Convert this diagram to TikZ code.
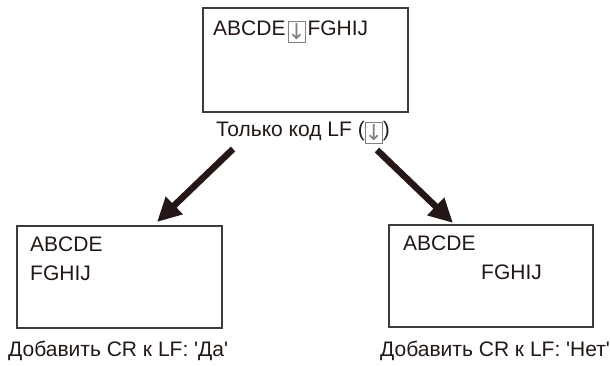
\documentclass[tikz,border=0pt]{standalone}
\usepackage{fontspec}
\setmainfont{Liberation Sans}
\newfontfamily\dvs{DejaVu Sans}
\usetikzlibrary{arrows.meta}
\definecolor{ink}{HTML}{231815}
\definecolor{frame}{HTML}{3C3C3C}
\definecolor{markgray}{HTML}{808080}
\newcommand{\lfmark}{\raisebox{-7pt}{\textcolor{markgray}{\setlength{\fboxsep}{0pt}\setlength{\fboxrule}{1pt}\fbox{\vbox to 20pt{\vss\hbox to 16pt{\hss\dvs\fontsize{22}{22}\selectfont ↓\hss}\vss}}}}}
\begin{document}
\begin{tikzpicture}[x=1pt,y=-1pt,
  screen/.style={draw=frame,line width=1.8pt},
  txt/.style={anchor=base west,inner sep=0pt,font=\fontsize{21}{21}\selectfont,text=ink},
  bigarrow/.style={ink,line width=6.5pt,-{Triangle[length=24pt,width=23pt]}}]
\useasboundingbox (0,0) rectangle (610,365);
\draw[screen] (203,8) rectangle (408,112);
\node[txt] (t1) at (213,35) {ABCDE\kern2pt\lfmark\kern2pt FGHIJ};
\node[txt] (lf) at (216,136) {Только код LF (\lfmark)};
\draw[screen] (17,226) rectangle (222,328);
\node[txt] (l1) at (30,251) {ABCDE};
\node[txt] (l2) at (30,280) {FGHIJ};
\node[txt] (lyes) at (8,356) {Добавить CR к LF: \textquotesingle Да\textquotesingle};
\draw[screen] (389,225) rectangle (593,327);
\node[txt] (r1) at (403,250) {ABCDE};
\node[txt] (r2) at (481,279) {FGHIJ};
\node[txt] (rno) at (380,356) {Добавить CR к LF: \textquotesingle Нет\textquotesingle};
\coordinate (as) at (233,149);
\coordinate (at) at (157,222);
\coordinate (bs) at (377,150);
\coordinate (bt) at (453,223);
\draw[bigarrow] (as) -- (at);
\draw[bigarrow] (bs) -- (bt);
\end{tikzpicture}
\end{document}
